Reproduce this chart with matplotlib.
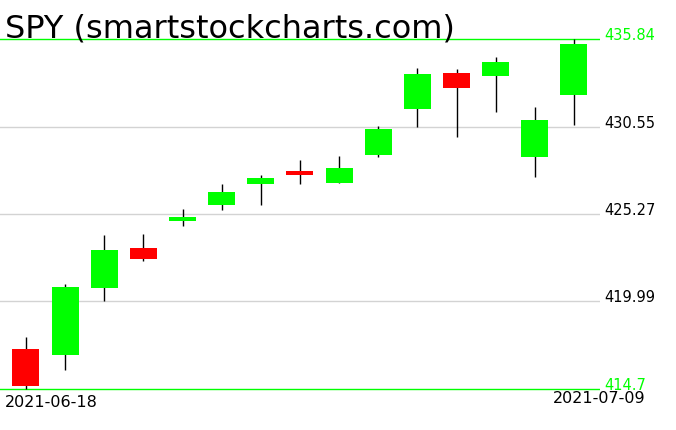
import matplotlib
matplotlib.use("Agg")
import matplotlib.pyplot as plt
import matplotlib.transforms as mtransforms
import numpy as np

dates = ["2021-06-18", "2021-06-21", "2021-06-22", "2021-06-23", "2021-06-24",
         "2021-06-25", "2021-06-28", "2021-06-29", "2021-06-30", "2021-07-01",
         "2021-07-02", "2021-07-06", "2021-07-07", "2021-07-08", "2021-07-09"]
opens  = [417.12, 416.77, 420.80, 423.22, 424.87, 425.83, 427.10, 427.87, 427.16, 428.85,
          431.63, 433.79, 433.62, 428.73, 432.48]
highs  = [417.82, 421.04, 424.00, 424.06, 425.57, 427.08, 427.63, 428.53, 428.77, 430.60,
          434.09, 434.01, 434.75, 431.73, 435.84]
lows   = [414.70, 415.87, 420.03, 422.43, 424.56, 425.53, 425.83, 427.10, 427.14, 428.73,
          430.54, 429.94, 431.45, 427.49, 430.66]
closes = [414.90, 420.86, 423.10, 422.55, 425.09, 426.60, 427.44, 427.64, 428.05, 430.40,
          433.73, 432.90, 434.45, 430.95, 435.54]
grid_levels = [419.99, 425.27, 430.55]
grid_labels = ["419.99", "425.27", "430.55"]
max_level, max_label = 435.84, "435.84"
min_level, min_label = 414.7, "414.7"
title = "SPY (smartstockcharts.com)"

GREEN = "#00ff00"
RED = "#ff0000"
GRAY = "#d3d3d3"

W, H = 676, 431
fig = plt.figure(figsize=(W / 100, H / 100), dpi=100)
ax = fig.add_axes([0, 0, 600 / W, 1])
ax.set_axis_off()
ax.set_xlim(-0.664, 14.665)
ax.set_ylim(412.224, 438.256)

x = np.arange(len(dates))
o = np.array(opens); c = np.array(closes)
colors = [GREEN if cc >= oo else RED for oo, cc in zip(o, c)]

for lv in grid_levels:
    ax.axhline(lv, color=GRAY, lw=1.0, zorder=0)
ax.axhline(max_level, color=GREEN, lw=1.0, zorder=0)
ax.axhline(min_level, color=GREEN, lw=1.0, zorder=0)

ax.vlines(x, lows, highs, color="black", lw=1.0, zorder=1)
ax.bar(x, np.abs(c - o), bottom=np.minimum(o, c), width=0.69,
       color=colors, edgecolor="none", zorder=2)

trans = mtransforms.blended_transform_factory(ax.transAxes, ax.transData)
lx = 604 / 600
for lv, lb in zip(grid_levels, grid_labels):
    ax.text(lx, lv, lb, transform=trans, ha="left", va="baseline",
            fontsize=10.5, color="black", clip_on=False)
ax.text(lx, max_level, max_label, transform=trans, ha="left", va="baseline",
        fontsize=10.5, color=GREEN, clip_on=False)
ax.text(lx, min_level, min_label, transform=trans, ha="left", va="baseline",
        fontsize=10.5, color=GREEN, clip_on=False, zorder=3)

fig.text(5 / W, 1 - 395 / H, dates[0], ha="left", va="top", fontsize=11.5, color="black")
fig.text(645 / W, 1 - 391 / H, dates[-1], ha="right", va="top", fontsize=11.5, color="black")
fig.text(5 / W, 1 - 37 / H, title, ha="left", va="baseline", fontsize=23, color="black")

fig.savefig("out.png", dpi=100, facecolor="white")
